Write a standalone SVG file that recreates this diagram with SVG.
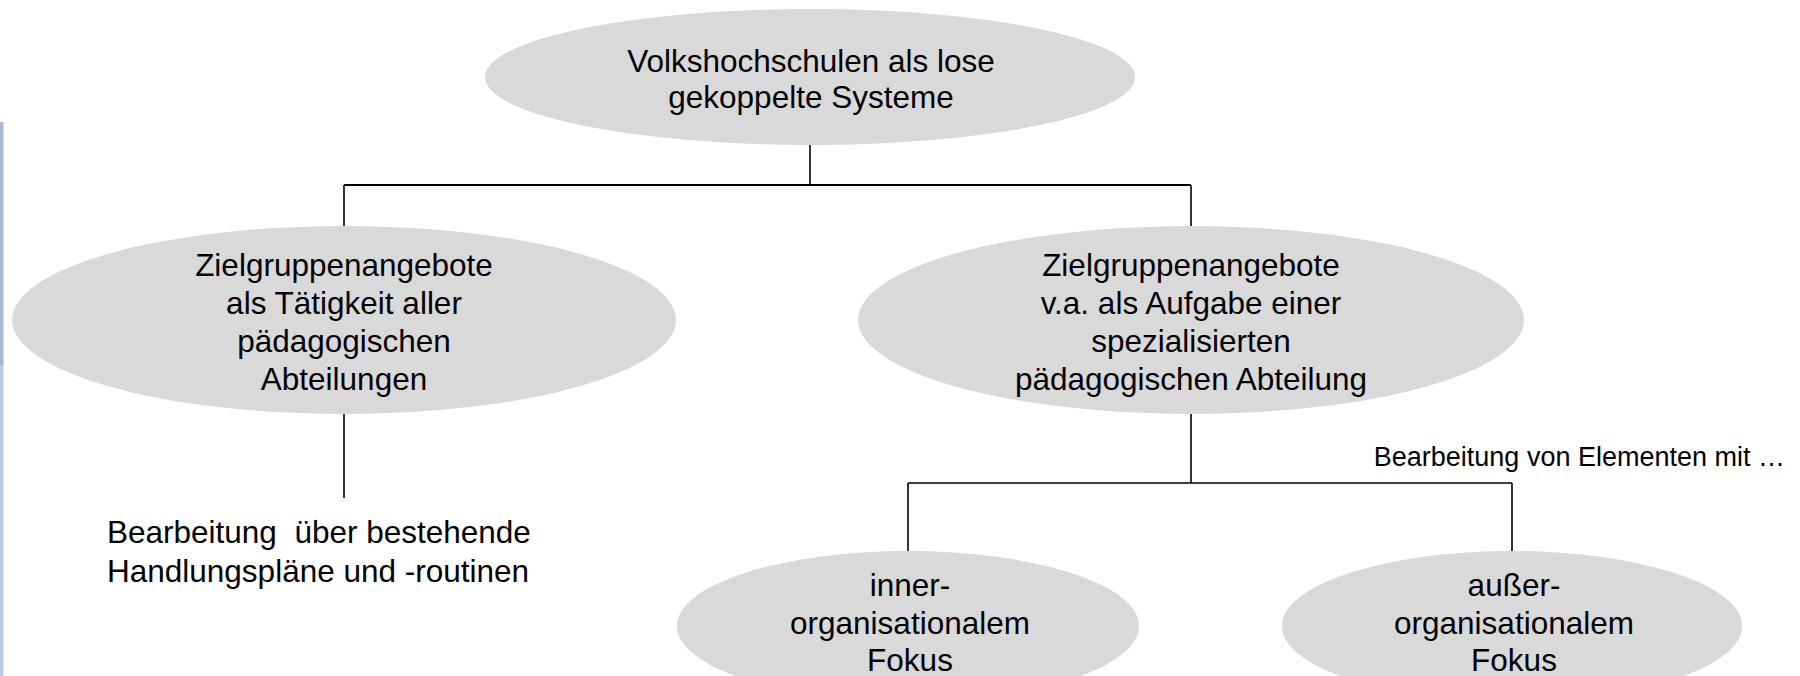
<svg xmlns="http://www.w3.org/2000/svg" width="1800" height="676" viewBox="0 0 1800 676">
<style>
.node ellipse{fill:#d9d9d9;stroke:none}
text{font-family:"Liberation Sans",Arial,sans-serif;font-size:31.5px;fill:#000}
.c{text-anchor:middle}
.conn line{stroke:#000;stroke-width:1.6;fill:none}
</style>
<rect x="0" y="122" width="3.5" height="244" fill="#a6bad4"/>
<rect x="0" y="366" width="3.5" height="310" fill="#b9cde4"/>
<g id="connectors" class="conn">
<line x1="810" y1="145" x2="810" y2="185"/>
<line x1="344" y1="185" x2="1191" y2="185" style="stroke-width:2.2"/>
<line x1="344" y1="185" x2="344" y2="227"/>
<line x1="1191" y1="185" x2="1191" y2="227"/>
<line x1="344" y1="414" x2="344" y2="498"/>
<line x1="1191" y1="414" x2="1191" y2="483"/>
<line x1="908" y1="483" x2="1512" y2="483"/>
<line x1="908" y1="483" x2="908" y2="551"/>
<line x1="1512" y1="483" x2="1512" y2="551"/>
</g>
<g id="n-top" class="node">
<ellipse cx="810" cy="77" rx="325" ry="68"/>
<text class="c" x="811" y="72">Volkshochschulen als lose</text>
<text class="c" x="811" y="108">gekoppelte Systeme</text>
</g>
<g id="n-left" class="node">
<ellipse cx="344" cy="320" rx="332" ry="94"/>
<text class="c" x="344" y="276">Zielgruppenangebote</text>
<text class="c" x="344" y="314">als Tätigkeit aller</text>
<text class="c" x="344" y="352">pädagogischen</text>
<text class="c" x="344" y="390">Abteilungen</text>
</g>
<g id="n-right" class="node">
<ellipse cx="1191" cy="320" rx="333" ry="94"/>
<text class="c" x="1191" y="276">Zielgruppenangebote</text>
<text class="c" x="1191" y="314">v.a. als Aufgabe einer</text>
<text class="c" x="1191" y="352">spezialisierten</text>
<text class="c" x="1191" y="390">pädagogischen Abteilung</text>
</g>
<g id="n-left-label">
<text x="107" y="543" style="white-space:pre">Bearbeitung  über bestehende</text>
<text x="107" y="582">Handlungspläne und -routinen</text>
</g>
<g id="n-right-label">
<text x="1785" y="466" style="text-anchor:end;font-size:27px">Bearbeitung von Elementen mit …</text>
</g>
<g id="n-inner" class="node">
<ellipse cx="908" cy="626" rx="231" ry="75"/>
<text class="c" x="910" y="596">inner-</text>
<text class="c" x="910" y="634">organisationalem</text>
<text class="c" x="910" y="671">Fokus</text>
</g>
<g id="n-outer" class="node">
<ellipse cx="1512" cy="626" rx="230" ry="75"/>
<text class="c" x="1514" y="596">außer-</text>
<text class="c" x="1514" y="634">organisationalem</text>
<text class="c" x="1514" y="671">Fokus</text>
</g>
</svg>
